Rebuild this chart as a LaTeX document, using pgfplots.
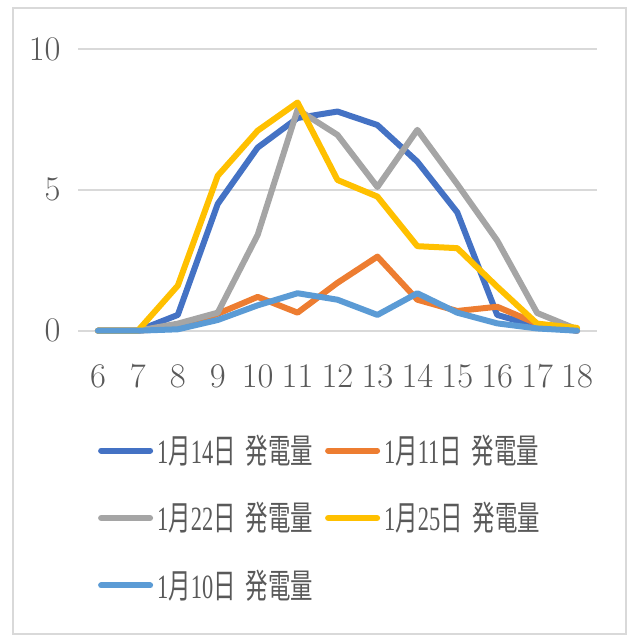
\documentclass[border=0pt]{standalone}
\usepackage{fontspec}
\usepackage{pgfplots}
\pgfplotsset{compat=1.18}
\setmainfont{Liberation Serif}[FakeStretch=0.66]
\newfontfamily\jp{Noto Sans CJK JP}[FakeStretch=0.66]
\definecolor{cA}{HTML}{4472C4}
\definecolor{cB}{HTML}{ED7D31}
\definecolor{cC}{HTML}{A5A5A5}
\definecolor{cD}{HTML}{FFC000}
\definecolor{cE}{HTML}{5B9BD5}
\definecolor{gridc}{HTML}{D9D9D9}
\definecolor{txt}{HTML}{595959}
\newcommand{\lab}[1]{\makebox[78pt][l]{1{\jp 月}#1{\jp 日}\hspace{5pt}{\jp 発電量}}}
\begin{document}
\begin{tikzpicture}
\path[use as bounding box] (0,0) rectangle (315pt,317.5pt);
\draw[gridc, line width=1pt] (6.5pt,0.5pt) rectangle (313pt,313.5pt);
\begin{axis}[
  at={(39pt,152.15pt)}, anchor=south west,
  scale only axis, width=259.5pt, height=140.85pt,
  xmin=5.5, xmax=18.5, ymin=0, ymax=10,
  xtick={6,7,8,9,10,11,12,13,14,15,16,17,18},
  ytick={0,5,10},
  axis line style={draw=none},
  major tick length=0pt,
  ymajorgrids, grid style={gridc, line width=1pt},
  clip=false,
  tick label style={font=\fontsize{17}{19}\selectfont, text=txt},
  xticklabel style={anchor=center, inner sep=0pt, yshift=-23pt},
  yticklabel style={anchor=east, inner sep=0pt, xshift=-8.5pt},
  every axis plot/.append style={line width=3pt, line join=round, line cap=round},
  legend columns=2,
  legend cell align=left,
  legend image code/.code={\draw[#1] (0pt,0pt) -- (24.5pt,0pt);},
  legend style={draw=none, fill=none, inner sep=0pt,
    at={(0.038,-0.354)}, anchor=north west,
    font=\fontsize{17}{19}\selectfont, text=txt,
    row sep=14pt,
    /tikz/every even column/.append style={column sep=4pt}},
]
\addplot[cA] coordinates {(6,0)(7,0)(8,0.56)(9,4.5)(10,6.5)(11,7.55)(12,7.78)(13,7.3)(14,6.0)(15,4.2)(16,0.56)(17,0.15)(18,0)};
\addlegendentry{\lab{14}}
\addplot[cB] coordinates {(6,0)(7,0)(8,0.1)(9,0.6)(10,1.2)(11,0.64)(12,1.7)(13,2.63)(14,1.1)(15,0.7)(16,0.85)(17,0.25)(18,0)};
\addlegendentry{\lab{11}}
\addplot[cC] coordinates {(6,0)(7,0)(8,0.25)(9,0.64)(10,3.4)(11,7.85)(12,6.95)(13,5.1)(14,7.13)(15,5.2)(16,3.2)(17,0.63)(18,0.05)};
\addlegendentry{\lab{22}}
\addplot[cD] coordinates {(6,0)(7,0)(8,1.6)(9,5.5)(10,7.1)(11,8.1)(12,5.35)(13,4.76)(14,3.0)(15,2.93)(16,1.56)(17,0.25)(18,0.1)};
\addlegendentry{\lab{25}}
\addplot[cE] coordinates {(6,0)(7,0)(8,0.05)(9,0.38)(10,0.9)(11,1.33)(12,1.1)(13,0.56)(14,1.33)(15,0.64)(16,0.26)(17,0.08)(18,0)};
\addlegendentry{\lab{10}}
\end{axis}
\end{tikzpicture}
\end{document}
